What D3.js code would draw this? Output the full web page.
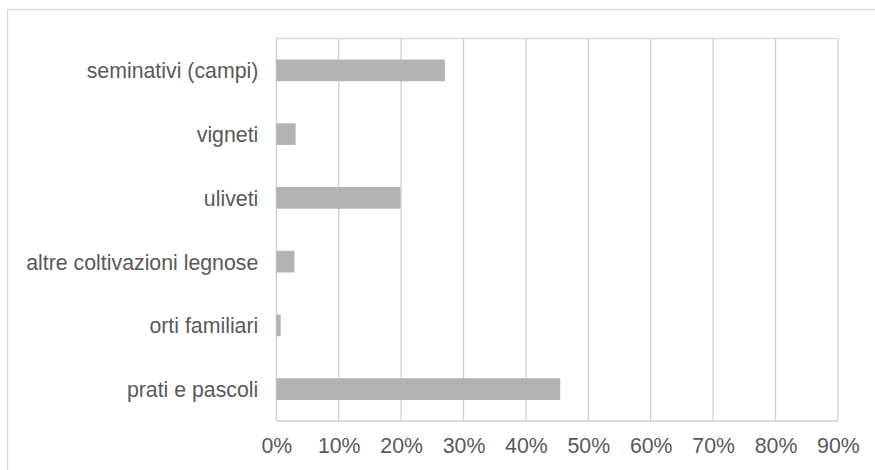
<!DOCTYPE html>
<html><head><meta charset="utf-8">
<script src="https://cdn.jsdelivr.net/npm/d3@7"></script>
<style>body{margin:0;background:#fff}svg{display:block}text{font-family:"Liberation Sans",Arial,sans-serif;fill:#595959}</style>
</head><body>
<svg id="c" width="875" height="470"></svg>
<script>
const categories = ["seminativi (campi)","vigneti","uliveti","altre coltivazioni legnose","orti familiari","prati e pascoli"];
const values = [0.27, 0.031, 0.199, 0.029, 0.007, 0.455];
const tickValues = [0,0.1,0.2,0.3,0.4,0.5,0.6,0.7,0.8,0.9];
const tickLabels = ["0%","10%","20%","30%","40%","50%","60%","70%","80%","90%"];

const svg = d3.select("#c");
// outer chart border
svg.append("rect").attr("x",7.5).attr("y",9.5).attr("width",900).attr("height",500)
  .attr("fill","none").attr("stroke","#d9d9d9").attr("stroke-width",1.3);

const m = {l:276.3, r:837.9, t:38.5, b:421};
const x = d3.scaleLinear().domain([0,0.9]).range([m.l,m.r]);
const y = d3.scaleBand().domain(categories).range([m.t,m.b]).paddingInner(0.66).paddingOuter(0.33);

// grid
svg.append("g").selectAll("line").data(tickValues).join("line")
  .attr("x1",d=>x(d)).attr("x2",d=>x(d)).attr("y1",m.t).attr("y2",m.b)
  .attr("stroke","#d0d0d0").attr("stroke-width",1.3);
svg.append("line").attr("x1",m.l).attr("x2",m.r).attr("y1",m.t).attr("y2",m.t).attr("stroke","#d9d9d9").attr("stroke-width",1.3);
svg.append("line").attr("x1",m.l).attr("x2",m.r).attr("y1",m.b).attr("y2",m.b).attr("stroke","#d0d0d0").attr("stroke-width",1.3);

// bars
svg.append("g").selectAll("rect").data(values).join("rect")
  .attr("x",x(0)).attr("y",(d,i)=>y(categories[i])).attr("height",y.bandwidth())
  .attr("width",d=>x(d)-x(0)).attr("fill","#b2b2b2");

const font = '"Liberation Sans",Arial,sans-serif';
// x axis
const xa = svg.append("g").attr("transform",`translate(0,${m.b})`)
  .call(d3.axisBottom(x).tickValues(tickValues).tickFormat((d,i)=>tickLabels[i]).tickSize(0).tickPadding(17));
xa.select(".domain").remove();
xa.selectAll("text").attr("font-size",21.3).style("font-family",font).attr("fill","#595959");

// y axis
const ya = svg.append("g").attr("transform",`translate(${m.l},0)`)
  .call(d3.axisLeft(y).tickSize(0).tickPadding(18));
ya.select(".domain").remove();
ya.selectAll("text").attr("font-size",21.3).attr("dy","0.38em").style("font-family",font).attr("fill","#595959");
</script>
</body></html>
